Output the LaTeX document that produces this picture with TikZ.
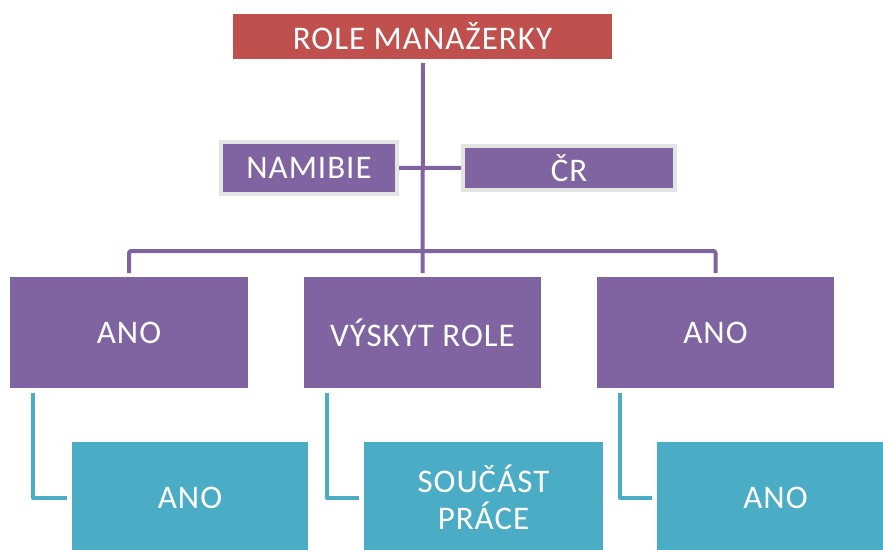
\documentclass[tikz,border=0pt]{standalone}
\usepackage{fontspec}
\setmainfont{Carlito}[LetterSpace=3]
\definecolor{rolered}{HTML}{C0504D}
\definecolor{rolepurple}{HTML}{8064A2}
\definecolor{roleteal}{HTML}{4BACC6}
\definecolor{frame}{HTML}{E4E4E4}
\begin{document}
\begin{tikzpicture}[x=1pt,y=-1pt,
  box/.style={fill=#1, text=white, inner sep=0pt, outer sep=0pt, align=center,
    font=\fontsize{33}{37}\selectfont},
  framed/.style={fill=rolepurple, draw=frame, line width=4pt, text=white,
    inner sep=0pt, align=center, font=\fontsize{33}{37}\selectfont},
  purpleline/.style={draw=rolepurple, line width=4pt, line join=round, rounded corners=2pt},
  tealline/.style={draw=roleteal, line width=4pt, line join=round}]
\useasboundingbox (0,0) rectangle (883,549);
\clip (0,0) rectangle (883,549);

% header
\node[box=rolered, minimum width=379pt, minimum height=45pt] (top) at (422.5,36.5) {ROLE MANAŽERKY};

% countries
\node[framed, minimum width=176pt, minimum height=52pt] (nam) at (309,168) {NAMIBIE};
\node[framed, minimum width=212pt, minimum height=43.5pt] (cr) at (569,167.75) {ČR};

% second level
\node[box=rolepurple, minimum width=238pt, minimum height=111pt] (a1) at (129,332.5) {ANO};
\node[box=rolepurple, minimum width=237pt, minimum height=111pt] (b) at (422.5,332.5) {VÝSKYT ROLE};
\node[box=rolepurple, minimum width=237pt, minimum height=111pt] (c) at (715.5,332.5) {ANO};

% third level
\node[box=roleteal, minimum width=236pt, minimum height=111pt] (t1) at (190,497.5) {ANO};
\node[box=roleteal, minimum width=239pt, minimum height=111pt] (t2) at (483.5,497.5) {SOUČÁST\\PRÁCE};
\node[box=roleteal, minimum width=237pt, minimum height=111pt] (t3) at (775.5,497.5) {ANO};

\coordinate (bus) at (423,251);

% trunk and branches
\draw[purpleline] ([xshift=0.5pt,yshift=-4pt]top.south) -- ([yshift=4pt]b.north);
\draw[purpleline] (nam.east) -- (cr.west);
\draw[purpleline] ([yshift=4pt]a1.north) |- (bus) -| ([yshift=4pt]c.north);

% elbows to the lower boxes
\draw[tealline] ([xshift=23pt,yshift=-5pt]a1.south west) |- ([xshift=-5pt]t1.west);
\draw[tealline] ([xshift=23pt,yshift=-5pt]b.south west) |- ([xshift=-5pt]t2.west);
\draw[tealline] ([xshift=23pt,yshift=-5pt]c.south west) |- ([xshift=-5pt]t3.west);
\end{tikzpicture}
\end{document}
